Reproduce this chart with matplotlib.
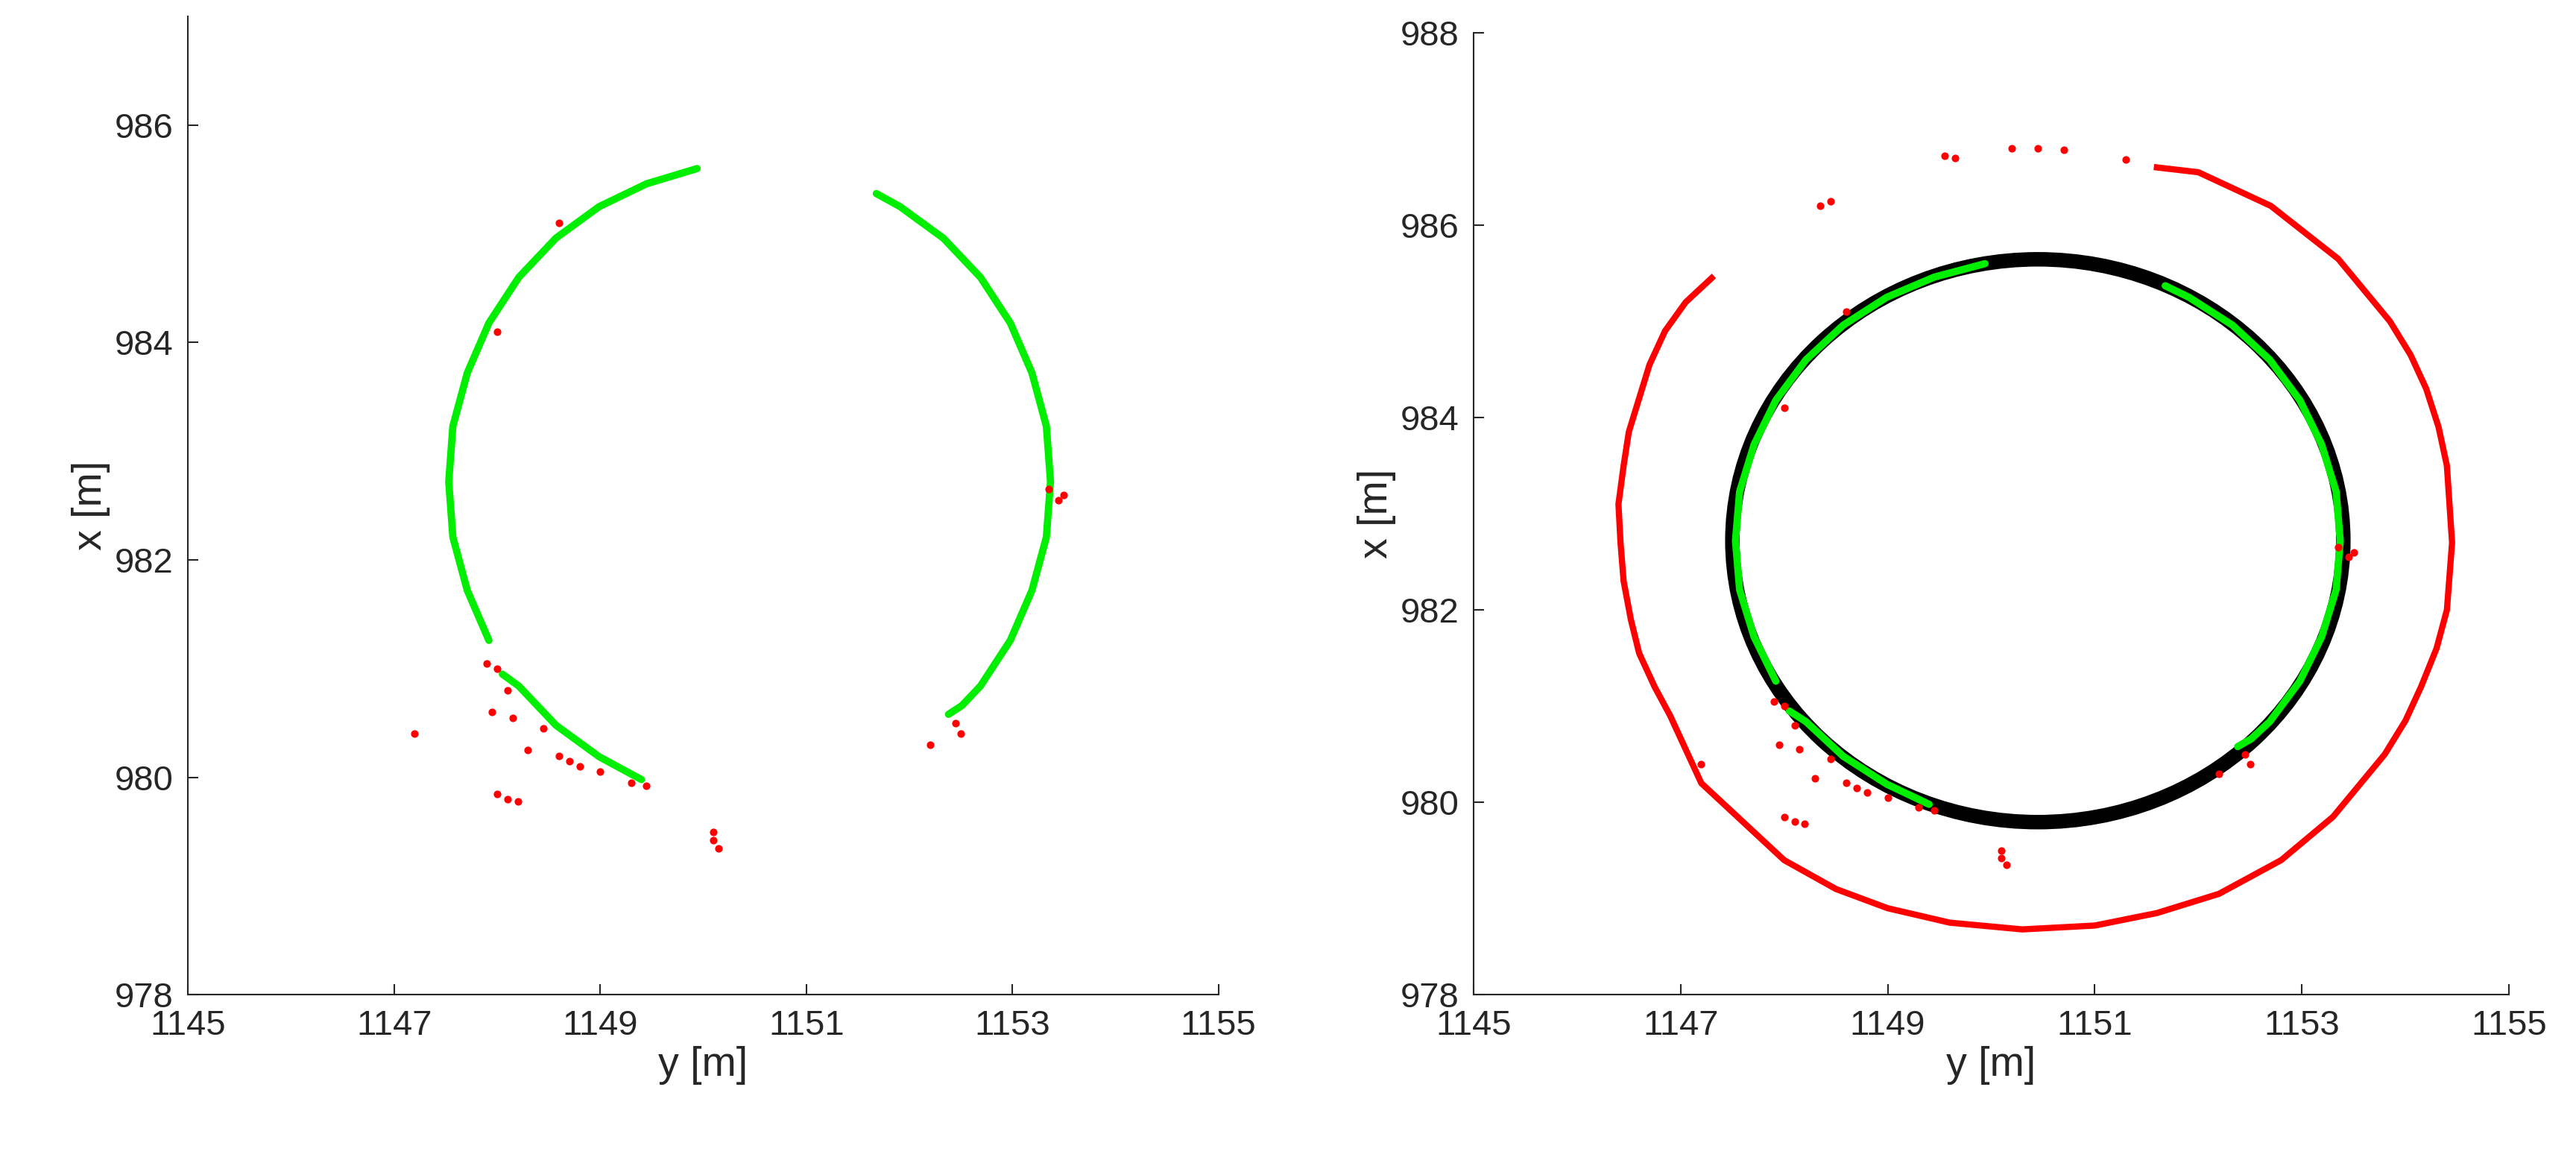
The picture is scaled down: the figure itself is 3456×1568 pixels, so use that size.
import matplotlib.pyplot as plt
from matplotlib.patches import Ellipse
import numpy

plt.rcParams['font.family'] = ['Liberation Sans', 'DejaVu Sans']

# green arc points (y, x) in metres
green_left_y = [1149.94, 1149.45, 1148.99, 1148.57, 1148.21, 1147.92, 1147.71, 1147.57, 1147.53,
                1147.57, 1147.71, 1147.92]
green_left_x = [985.60, 985.46, 985.25, 984.96, 984.60, 984.18, 983.72, 983.23, 982.72,
                982.21, 981.72, 981.26]
green_low_y = [1148.05, 1148.21, 1148.57, 1148.99, 1149.40]
green_low_x = [980.95, 980.84, 980.48, 980.19, 979.98]
green_right_y = [1151.68, 1151.91, 1152.33, 1152.69, 1152.98, 1153.19, 1153.33, 1153.37,
                 1153.33, 1153.19, 1152.98, 1152.69, 1152.51, 1152.38]
green_right_x = [985.37, 985.25, 984.96, 984.60, 984.18, 983.72, 983.23, 982.72,
                 982.21, 981.72, 981.26, 980.84, 980.66, 980.58]

# scattered red points near the inner circle
red_in_y = [1147.9, 1148.0, 1148.1, 1148.15, 1147.2, 1148.0, 1148.1, 1148.2, 1148.6, 1148.8,
            1149.0, 1149.3, 1149.45, 1150.1, 1150.15, 1150.1, 1152.5, 1152.45, 1152.2, 1153.45,
            1153.5, 1153.35, 1148.0, 1148.6, 1148.3, 1148.7, 1147.95, 1148.45]
red_in_x = [981.05, 981.0, 980.8, 980.55, 980.4, 979.85, 979.8, 979.78, 980.2, 980.1,
            980.05, 979.95, 979.92, 979.5, 979.35, 979.42, 980.4, 980.5, 980.3, 982.55,
            982.6, 982.65, 984.1, 985.1, 980.25, 980.15, 980.6, 980.45]

# outer red ring (right panel only)
red_ring_y = [1147.3, 1147.05, 1146.85, 1146.7, 1146.6, 1146.5, 1146.45, 1146.4, 1146.42,
              1146.45, 1146.52, 1146.6, 1146.75, 1146.9, 1147.2,
              1147.5, 1148.0, 1148.5, 1149.0, 1149.6, 1150.3, 1151.0, 1151.6, 1152.2, 1152.8,
              1153.3, 1153.8, 1154.0, 1154.15, 1154.3, 1154.4, 1154.45, 1154.4, 1154.32,
              1154.2, 1154.05, 1153.85, 1153.35, 1152.7, 1152.0, 1151.6]
red_ring_x = [985.45, 985.2, 984.9, 984.55, 984.2, 983.85, 983.5, 983.1, 982.7,
              982.3, 981.9, 981.55, 981.2, 980.9, 980.2,
              979.9, 979.4, 979.1, 978.9, 978.75, 978.68, 978.72, 978.85, 979.05, 979.4,
              979.85, 980.5, 980.85, 981.2, 981.6, 982.0, 982.7, 983.5, 983.9,
              984.3, 984.65, 985.0, 985.65, 986.2, 986.55, 986.6]
red_top_y = [1148.35, 1148.45, 1149.55, 1149.65, 1150.2, 1150.45, 1150.7, 1151.3]
red_top_x = [986.2, 986.25, 986.72, 986.7, 986.8, 986.8, 986.78, 986.68]

# fitted circle
circ_y, circ_x, circ_w, circ_h = 1150.45, 982.72, 5.9, 5.85

fig = plt.figure(figsize=(34.56, 15.68), dpi=100)
ax1 = fig.add_axes([0.073, 0.149, 0.40, 0.837])
ax2 = fig.add_axes([0.572, 0.149, 0.402, 0.823])

green = '#00ee00'
red = '#ff0000'

def draw_inner(ax):
    for ys, xs in [(green_left_y, green_left_x), (green_low_y, green_low_x),
                   (green_right_y, green_right_x)]:
        ax.plot(ys, xs, '-', color=green, lw=7, solid_joinstyle='round',
                solid_capstyle='round', zorder=3)
    ax.scatter(red_in_y, red_in_x, s=40, color=red, zorder=4)

draw_inner(ax1)

ax2.add_patch(Ellipse((circ_y, circ_x), circ_w, circ_h, fill=False, ec='black', lw=14, zorder=2))
draw_inner(ax2)
ax2.plot(red_ring_y, red_ring_x, '-', color=red, lw=6, solid_joinstyle='round', zorder=3)
ax2.scatter(red_top_y, red_top_x, s=40, color=red, zorder=3)

for ax, top in [(ax1, 987.0), (ax2, 988)]:
    ax.set_xlim(1145, 1155)
    ax.set_ylim(978, top)
    ax.set_xticks(numpy.arange(1145, 1156, 2))
    ax.set_yticks(numpy.arange(978, top + 0.1, 2))
    ax.spines['top'].set_visible(False)
    ax.spines['right'].set_visible(False)
    for s in ['left', 'bottom']:
        ax.spines[s].set_linewidth(1.5)
        ax.spines[s].set_color('#262626')
    ax.tick_params(direction='in', length=10, width=1.5, labelsize=34, colors='#262626', pad=14)
    ax.set_xlabel('y [m]', fontsize=40, color='#262626')
    ax.set_ylabel('x [m]', fontsize=40, color='#262626')

fig.savefig('out.png', dpi=100)
